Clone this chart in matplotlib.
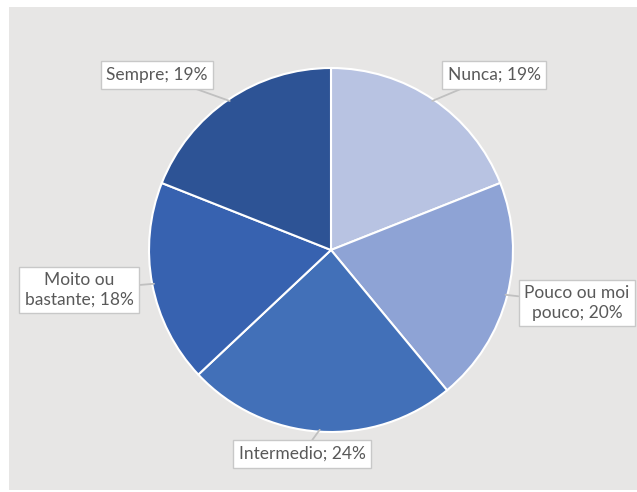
import numpy as np
import matplotlib
matplotlib.use('Agg')
import matplotlib.pyplot as plt
from matplotlib.patches import Rectangle

# data
categories = ['Nunca', 'Pouco ou moi\npouco', 'Intermedio', 'Moito ou\nbastante', 'Sempre']
shares = [19, 20, 24, 18, 19]
colors = ['#b8c3e2', '#8ea3d5', '#4270b8', '#3762b0', '#2d5395']

W, H = 637, 492
fig = plt.figure(figsize=(W / 100, H / 100), dpi=100, facecolor='white')

ax = fig.add_axes([0, 0, 1, 1])
ax.patch.set_alpha(0)

cx, cy, r = 331, H - 250, 182
wedges, _ = ax.pie(shares, colors=colors, startangle=90, counterclock=False,
                   center=(cx, cy), radius=r, frame=True,
                   wedgeprops=dict(edgecolor='white', linewidth=1.5))
ax.set_xlim(0, W)
ax.set_ylim(0, H)
ax.set_aspect('equal')
ax.axis('off')

# grey chart area
ax.add_patch(Rectangle((9, 2), W, 483, facecolor='#e7e6e5', edgecolor='none', zorder=-5))

# label box centres in pixel coords (x, y from top)
label_pos = [(494, 75), (577, 303), (302, 454), (79, 290), (157, 75)]

for w, name, val, (lx, ly) in zip(wedges, categories, shares, label_pos):
    mid = np.deg2rad((w.theta1 + w.theta2) / 2)
    px = cx + r * 0.99 * np.cos(mid)
    py = cy + r * 0.99 * np.sin(mid)
    ax.annotate(f'{name}; {val}%', xy=(px, py), xytext=(lx, H - ly),
                ha='center', va='center', fontsize=12.5, color='#595959',
                family='Lato', linespacing=1.25,
                bbox=dict(boxstyle='square,pad=0.32', fc='white', ec='#c8c8c8', lw=1),
                arrowprops=dict(arrowstyle='-', color='#c0c0c0', lw=1.3,
                                shrinkA=0, shrinkB=0))

fig.savefig('out.png', dpi=100, facecolor='white')
